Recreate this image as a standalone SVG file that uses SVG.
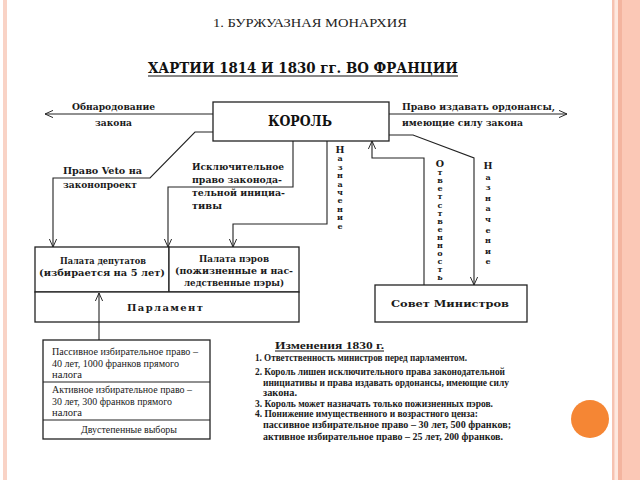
<svg xmlns="http://www.w3.org/2000/svg" width="640" height="480" viewBox="0 0 640 480">
<defs>
<marker id="arr" viewBox="0 0 10 10" refX="10" refY="5" markerWidth="8" markerHeight="8" orient="auto" markerUnits="userSpaceOnUse">
<path d="M0,0.5 L10,5 L0,9.5" fill="none" stroke="#222" stroke-width="1.2"/>
</marker>
<style>
.box{fill:#fff;stroke:#222;stroke-width:1.3}
.ln{fill:none;stroke:#222;stroke-width:1.1}
.lbl{font-family:"DejaVu Serif","Liberation Serif",serif;font-weight:bold;font-size:10px;fill:#1a1a1a}
.vt{font-family:"DejaVu Serif","Liberation Serif",serif;font-weight:bold;font-size:8px;fill:#1a1a1a;writing-mode:vertical-rl;text-orientation:upright}
.tm{font-family:"Liberation Serif","Times New Roman",serif;font-size:10px;fill:#1a1a1a}
.tb{font-family:"Liberation Serif","Times New Roman",serif;font-weight:bold;font-size:10px;fill:#1a1a1a}
</style>
</defs>
<rect width="640" height="480" fill="#fff"/>
<rect x="3" y="0" width="4" height="480" fill="#f9d3c6"/>
<rect x="612" y="0" width="28" height="480" fill="#fbc8b6"/>
<rect x="612" y="0" width="2.5" height="480" fill="#f6c2b0"/>
<rect x="614.5" y="0" width="3.5" height="480" fill="#fde8df"/>
<rect x="618" y="0" width="4" height="480" fill="#f3b49f"/>
<circle cx="590" cy="419" r="19" fill="#f58634"/>

<text x="310" y="27" text-anchor="middle" font-family="Liberation Serif, serif" font-size="13" fill="#222" textLength="194" lengthAdjust="spacingAndGlyphs">1. БУРЖУАЗНАЯ МОНАРХИЯ</text>
<text x="303" y="73" text-anchor="middle" font-family="DejaVu Serif, serif" font-weight="bold" font-size="14" fill="#111" textLength="310" lengthAdjust="spacingAndGlyphs">ХАРТИИ 1814 И 1830 гг. ВО ФРАНЦИИ</text>
<line x1="148" y1="76" x2="458" y2="76" stroke="#111" stroke-width="1.2"/>

<g id="korol">
<rect class="box" x="213" y="102" width="176" height="39"/>
<text x="300" y="126" text-anchor="middle" font-family="DejaVu Serif, serif" font-weight="bold" font-size="14" fill="#111" textLength="64" lengthAdjust="spacingAndGlyphs">КОРОЛЬ</text>
</g>

<g id="palata-deputatov">
<rect class="box" x="35" y="247" width="134" height="45"/>
<text class="lbl" x="103" y="264" text-anchor="middle" textLength="86" lengthAdjust="spacingAndGlyphs">Палата депутатов</text>
<text class="lbl" x="102" y="276" text-anchor="middle" textLength="126" lengthAdjust="spacingAndGlyphs">(избирается на 5 лет)</text>
</g>

<g id="palata-perov">
<rect class="box" x="169" y="247" width="130" height="45"/>
<text class="lbl" x="234" y="262" text-anchor="middle" textLength="70" lengthAdjust="spacingAndGlyphs">Палата пэров</text>
<text class="lbl" x="234" y="274" text-anchor="middle" textLength="118" lengthAdjust="spacingAndGlyphs">(пожизненные и нас-</text>
<text class="lbl" x="234" y="286" text-anchor="middle" textLength="100" lengthAdjust="spacingAndGlyphs">ледственные пэры)</text>
</g>

<g id="parlament">
<rect class="box" x="35" y="292" width="264" height="30"/>
<text class="lbl" x="165" y="311" text-anchor="middle" textLength="76" lengthAdjust="spacing">Парламент</text>
</g>

<g id="sovet">
<rect class="box" x="375" y="285" width="152" height="37"/>
<text class="lbl" x="450" y="307" text-anchor="middle" font-size="11" textLength="118" lengthAdjust="spacingAndGlyphs">Совет  Министров</text>
</g>

<g id="izbir">
<rect class="box" x="43" y="340" width="167" height="99" stroke-width="1.1"/>
<line class="ln" x1="43" y1="382" x2="210" y2="382"/>
<line class="ln" x1="43" y1="420" x2="210" y2="420"/>
<text class="tm" x="52" y="355" textLength="146" lengthAdjust="spacingAndGlyphs">Пассивное избирательное право –</text>
<text class="tm" x="52" y="367" textLength="127" lengthAdjust="spacingAndGlyphs">40 лет, 1000 франков прямого</text>
<text class="tm" x="52" y="378" textLength="30" lengthAdjust="spacingAndGlyphs">налога</text>
<text class="tm" x="52" y="393" textLength="140" lengthAdjust="spacingAndGlyphs">Активное избирательное право –</text>
<text class="tm" x="52" y="405" textLength="120" lengthAdjust="spacingAndGlyphs">30 лет, 300 франков прямого</text>
<text class="tm" x="52" y="416" textLength="30" lengthAdjust="spacingAndGlyphs">налога</text>
<text class="tm" x="129" y="433" text-anchor="middle" textLength="96" lengthAdjust="spacingAndGlyphs">Двустепенные выборы</text>
</g>

<g id="izmeneniya">
<text class="tb" x="275" y="349" font-size="11" textLength="109" lengthAdjust="spacingAndGlyphs">Изменения 1830 г.</text>
<line x1="275" y1="351" x2="384" y2="351" stroke="#111" stroke-width="1"/>
<text class="tb" x="255" y="361" textLength="212" lengthAdjust="spacingAndGlyphs">1. Ответственность министров перед парламентом.</text>
<text class="tb" x="255" y="375" textLength="250" lengthAdjust="spacingAndGlyphs">2. Король лишен исключительного права законодательной</text>
<text class="tb" x="263" y="386" textLength="246" lengthAdjust="spacingAndGlyphs">инициативы и права издавать ордонансы, имеющие силу</text>
<text class="tb" x="263" y="396" textLength="34" lengthAdjust="spacingAndGlyphs">закона.</text>
<text class="tb" x="255" y="407" textLength="238" lengthAdjust="spacingAndGlyphs">3. Король может назначать только пожизненных пэров.</text>
<text class="tb" x="255" y="417" textLength="223" lengthAdjust="spacingAndGlyphs">4. Понижение имущественного и возрастного ценза:</text>
<text class="tb" x="263" y="428" textLength="248" lengthAdjust="spacingAndGlyphs">пассивное избирательное право – 30 лет, 500 франков;</text>
<text class="tb" x="263" y="440" textLength="240" lengthAdjust="spacingAndGlyphs">активное избирательное право – 25 лет, 200 франков.</text>
</g>

<g id="connectors">
<path class="ln" d="M213,114 H45" marker-end="url(#arr)"/>
<path class="ln" d="M213,132 H195 L150,178 H53 V247" marker-end="url(#arr)"/>
<path class="ln" d="M293,141 V187 H168 V247" marker-end="url(#arr)"/>
<path class="ln" d="M327,141 V224 H233 V247" marker-end="url(#arr)"/>
<path class="ln" d="M424,285 V158 H372 V141" marker-end="url(#arr)"/>
<path class="ln" d="M389,135 H413 L474,158 V285" marker-end="url(#arr)"/>
<path class="ln" d="M389,114 H567" marker-end="url(#arr)"/>
<path class="ln" d="M99,340 V293" marker-end="url(#arr)"/>
<text class="lbl" x="72" y="110" textLength="83" lengthAdjust="spacingAndGlyphs">Обнародование</text>
<text class="lbl" x="95" y="126" textLength="37" lengthAdjust="spacingAndGlyphs">закона</text>
<text class="lbl" x="63" y="174" textLength="79" lengthAdjust="spacingAndGlyphs">Право Veto на</text>
<text class="lbl" x="63" y="188" textLength="74" lengthAdjust="spacingAndGlyphs">законопроект</text>
<text class="lbl" x="192" y="170" textLength="92" lengthAdjust="spacingAndGlyphs">Исключительное</text>
<text class="lbl" x="192" y="183" textLength="90" lengthAdjust="spacingAndGlyphs">право законода-</text>
<text class="lbl" x="192" y="196" textLength="93" lengthAdjust="spacingAndGlyphs">тельной инициа-</text>
<text class="lbl" x="192" y="209" textLength="30" lengthAdjust="spacingAndGlyphs">тивы</text>
<text class="lbl" x="402" y="110" textLength="153" lengthAdjust="spacingAndGlyphs">Право издавать ордонансы,</text>
<text class="lbl" x="402" y="126" textLength="121" lengthAdjust="spacingAndGlyphs">имеющие силу закона</text>
<text class="vt" x="340" y="144" letter-spacing="-1.6"><tspan font-size="9.5">Н</tspan>азначение</text>
<text class="vt" x="440" y="158" letter-spacing="-1.9"><tspan font-size="9.5">О</tspan>тветственность</text>
<text class="vt" x="488" y="160" letter-spacing="0.6"><tspan font-size="9.5">Н</tspan>азначение</text>
</g>
</svg>
